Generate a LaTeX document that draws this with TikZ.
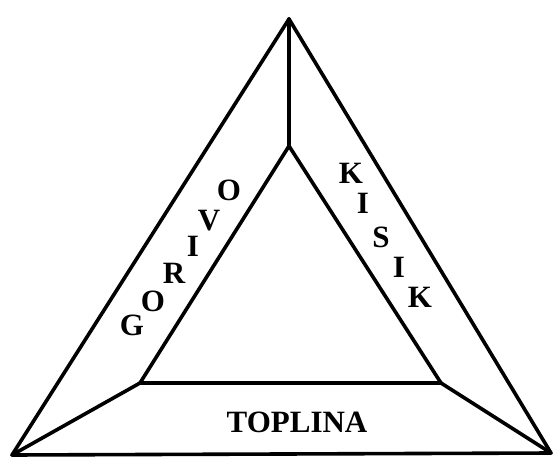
\documentclass[tikz,border=0pt]{standalone}
\usepackage{fontspec}
\setmainfont{Liberation Serif}
\begin{document}
\begin{tikzpicture}[x=1pt,y=-1pt,
  edge/.style={line width=3.6pt,line join=round,line cap=round},
  lab/.style={font=\fontsize{31}{31}\selectfont\bfseries,inner sep=0pt}]
\useasboundingbox (0,0) rectangle (558,459);
\coordinate (OT) at (289,19);
\coordinate (OL) at (12,455);
\coordinate (OR) at (551,453);
\coordinate (IT) at (289,146);
\coordinate (IL) at (140,383);
\coordinate (IR) at (441,383);
\draw[edge] (OT) -- (OL) -- (OR) -- cycle;
\draw[edge] (IT) -- (IL) -- (IR) -- cycle;
\draw[edge] (OT) -- (IT);
\draw[edge] (OL) -- (IL);
\draw[edge] (OR) -- (IR);
\node[lab] (g1) at (132,325) {G};
\node[lab] (g2) at (153,301) {O};
\node[lab] (g3) at (174,273) {R};
\node[lab] (g4) at (193,246) {I};
\node[lab] (g5) at (209,221) {V};
\node[lab] (g6) at (229,190) {O};
\node[lab] (k1) at (351,173) {K};
\node[lab] (k2) at (363,203) {I};
\node[lab] (k3) at (381,237) {S};
\node[lab] (k4) at (399,267) {I};
\node[lab] (k5) at (420,297) {K};
\node[lab] (t) at (297,422) {TOPLINA};
\end{tikzpicture}
\end{document}
